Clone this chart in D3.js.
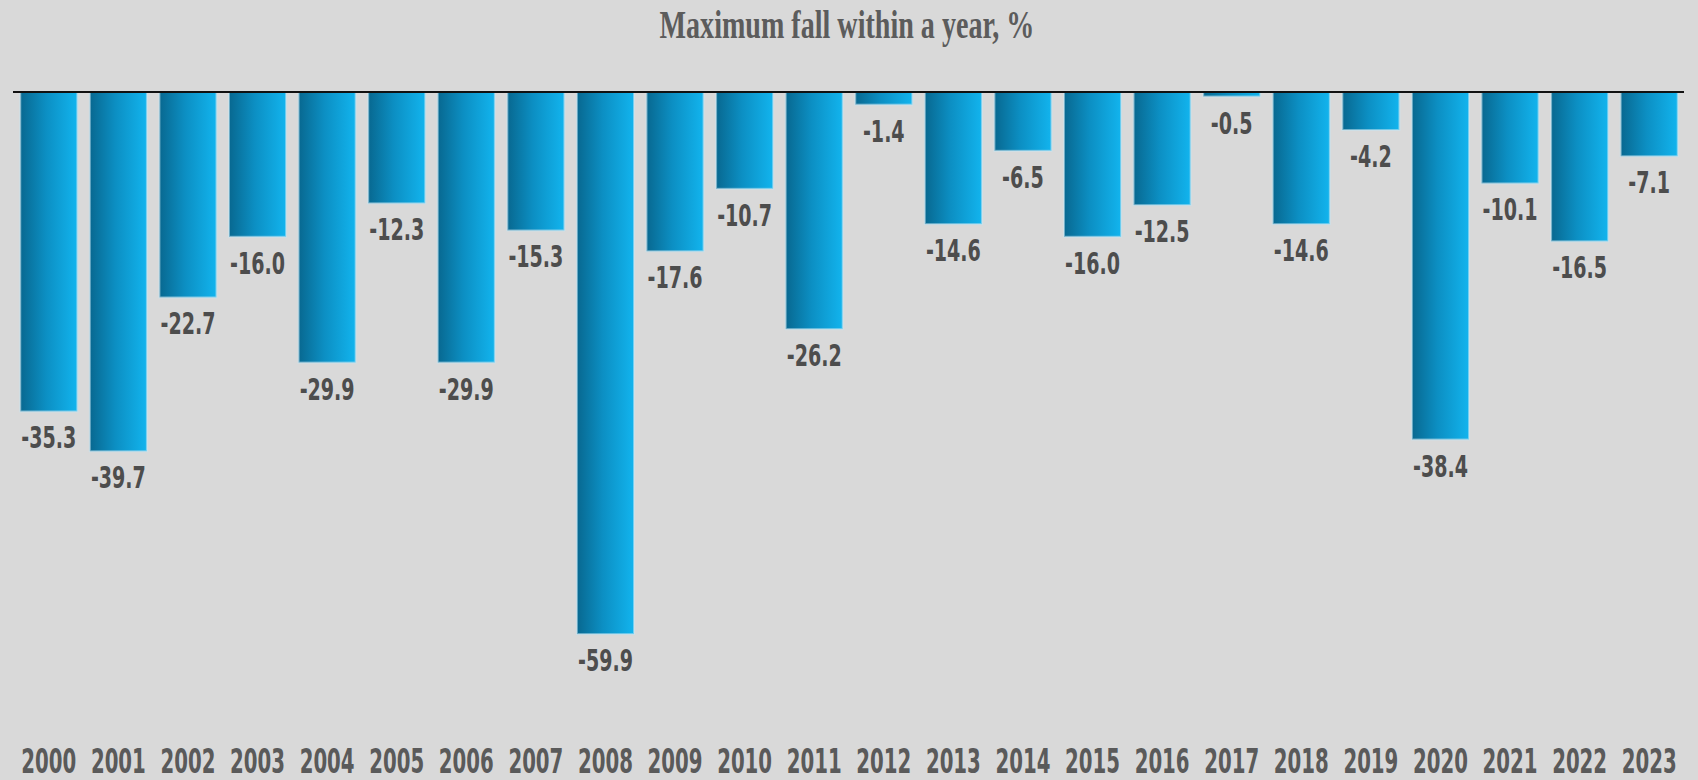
<!DOCTYPE html>
<html>
<head>
<meta charset="utf-8">
<script src="https://cdn.jsdelivr.net/npm/d3@7"></script>
<style>
  html, body { margin: 0; padding: 0; background: #d9d9d9; }
  svg { display: block; }
</style>
</head>
<body>
<div id="chart"></div>
<script>
// Maximum intra-year drawdown, by year
const years = ["2000","2001","2002","2003","2004","2005","2006","2007","2008","2009","2010","2011",
               "2012","2013","2014","2015","2016","2017","2018","2019","2020","2021","2022","2023"];
const maxFall = [-35.3,-39.7,-22.7,-16.0,-29.9,-12.3,-29.9,-15.3,-59.9,-17.6,-10.7,-26.2,
                 -1.4,-14.6,-6.5,-16.0,-12.5,-0.5,-14.6,-4.2,-38.4,-10.1,-16.5,-7.1];
const title = "Maximum fall within a year, %";

const W = 1698, H = 780;
const svg = d3.select("#chart").append("svg")
  .attr("width", W).attr("height", H);

svg.append("rect").attr("width", W).attr("height", H).attr("fill", "#d9d9d9");

// horizontal gradient: dark teal on the left to bright cyan on the right
const defs = svg.append("defs");
const grad = defs.append("linearGradient").attr("id", "barGrad")
  .attr("x1", "0%").attr("x2", "100%").attr("y1", "0%").attr("y2", "0%");
grad.append("stop").attr("offset", "0%").attr("stop-color", "#086890");
grad.append("stop").attr("offset", "45%").attr("stop-color", "#0c8fc3");
grad.append("stop").attr("offset", "100%").attr("stop-color", "#12b4ee");

const x = d3.scaleBand().domain(years).range([14, 1684])
  .paddingInner(0.18).paddingOuter(0.09);
const y = d3.scaleLinear().domain([0, -60]).range([92, 635]);

const data = years.map((yr, i) => ({ year: yr, value: maxFall[i] }));

// bars
svg.append("g").selectAll("rect").data(data).join("rect")
  .attr("x", d => x(d.year))
  .attr("y", y(0))
  .attr("width", x.bandwidth())
  .attr("height", d => y(d.value) - y(0))
  .attr("fill", "url(#barGrad)")
  .attr("stroke", "#c6e6f3")
  .attr("stroke-opacity", 0.55)
  .attr("stroke-width", 2);

// zero line
svg.append("line")
  .attr("x1", 13).attr("x2", 1684)
  .attr("y1", y(0)).attr("y2", y(0))
  .attr("stroke", "#111").attr("stroke-width", 2);

const sansCond = "'DejaVu Sans Condensed', 'Liberation Sans Narrow', 'DejaVu Sans', sans-serif";
const serifFam = "'Liberation Serif', 'DejaVu Serif', serif";

// Horizontal squeeze factor so that a sample string spans the wanted width
function squeeze(sample, width, family, size, weight) {
  const t = svg.append("text").attr("font-family", family).attr("font-size", size)
    .attr("font-weight", weight).text(sample);
  const len = t.node().getComputedTextLength();
  t.remove();
  return width / len;
}

function ctext(g, txt, cx, cy, o) {
  return g.append("text")
    .attr("transform", `translate(${cx},${cy}) scale(${o.sx},1)`)
    .attr("text-anchor", "middle")
    .attr("font-family", o.family)
    .attr("font-size", o.size)
    .attr("font-weight", o.weight)
    .attr("fill", o.fill)
    .text(txt);
}

// value labels below each bar
const lblStyle = { family: sansCond, size: 30, weight: "bold", fill: "#4d4d4d" };
lblStyle.sx = squeeze("-35.3", 55, lblStyle.family, lblStyle.size, lblStyle.weight);
const lbl = svg.append("g");
data.forEach(d => {
  ctext(lbl, d.value.toFixed(1), x(d.year) + x.bandwidth() / 2, y(d.value) + 37, lblStyle);
});

// year axis labels
const yrStyle = { family: sansCond, size: 33, weight: "bold", fill: "#5a5a5a" };
yrStyle.sx = squeeze("2000", 55, yrStyle.family, yrStyle.size, yrStyle.weight);
const yrs = svg.append("g");
years.forEach(yr => {
  ctext(yrs, yr, x(yr) + x.bandwidth() / 2, 773, yrStyle);
});

// title
const tStyle = { family: serifFam, size: 40, weight: "bold", fill: "#5c5c5c" };
tStyle.sx = squeeze(title, 375, tStyle.family, tStyle.size, tStyle.weight);
ctext(svg, title, 847, 38, tStyle);
</script>
</body>
</html>
